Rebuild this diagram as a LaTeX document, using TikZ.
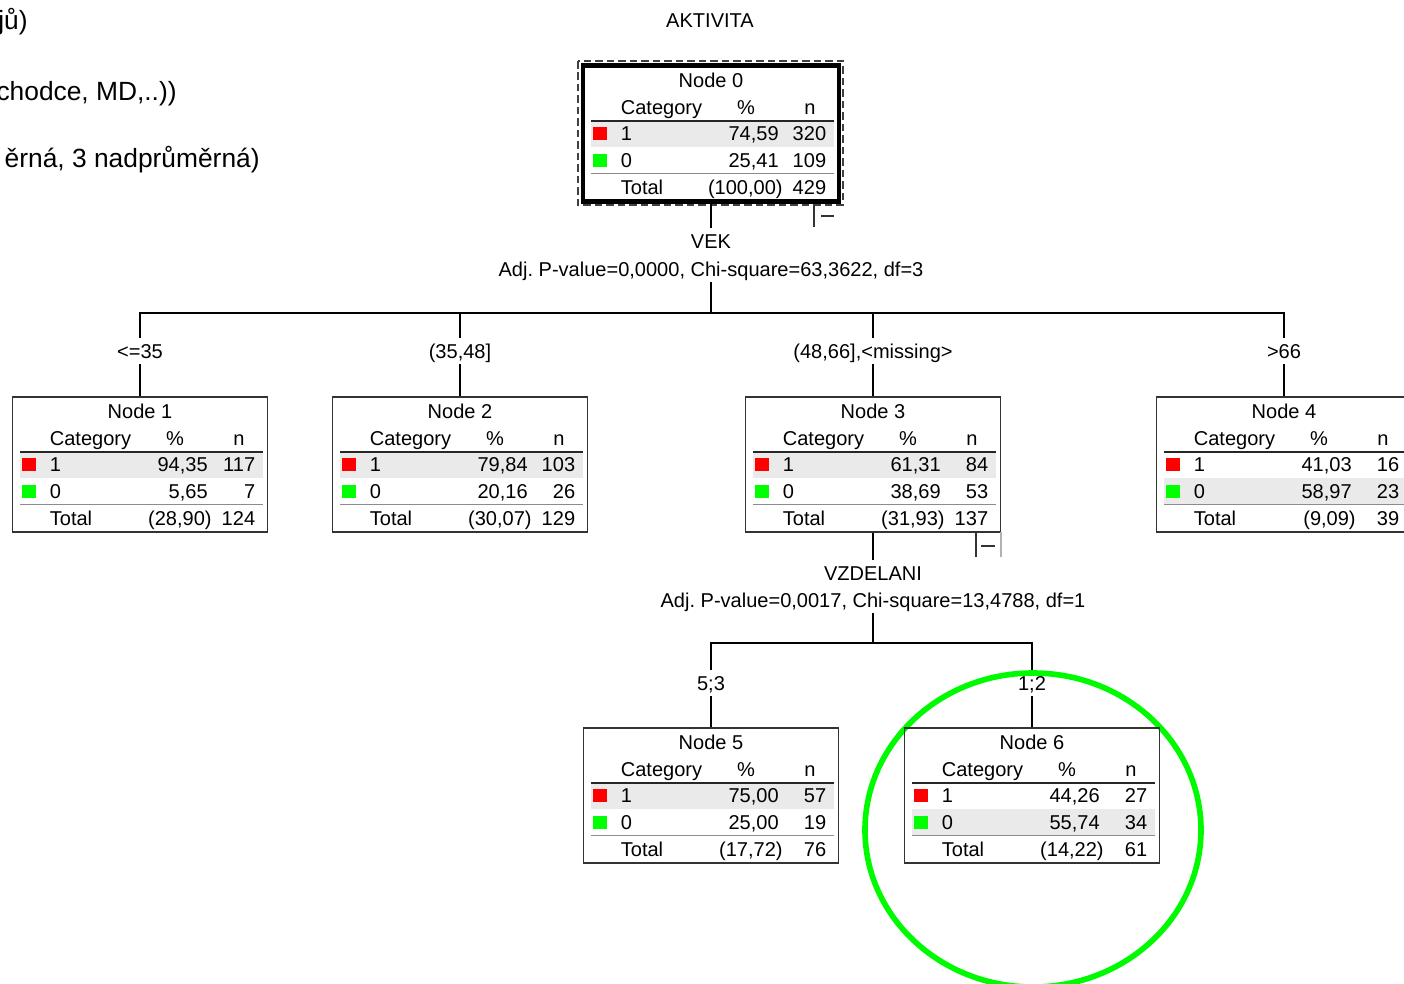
\documentclass[tikz,border=0pt]{standalone}
\usepackage{fontspec}
\setmainfont{Liberation Sans}
\frenchspacing
\definecolor{catred}{RGB}{255,0,0}
\definecolor{catgreen}{RGB}{0,255,0}
\definecolor{rowgray}{RGB}{234,234,234}
\definecolor{ringgreen}{RGB}{0,250,0}
\newcommand{\cellfont}{\fontsize{11.4pt}{13pt}\selectfont}
\newcommand{\sidefont}{\fontsize{15pt}{17pt}\selectfont}
% #1 shaded row, #2 node number, #3 centre x, #4 top y, #5/#6 category 1, #7/#8 category 0, #9 total %
\newcommand{\treebox}[9][1]{%
	\begin{scope}[shift={(#3,#4)}]
		\ifnum#1=1 \fill[rowgray] (-120.5,55) rectangle (122.5,81);
		\else \fill[rowgray] (-120.5,81) rectangle (122.5,107); \fi
		\draw[headline] (-120.5,55)--(122.5,55);
		\draw[totalline] (-120.5,107.5)--(122.5,107.5);
		\fill[catred] (-118.5,61) rectangle (-104.5,74);
		\fill[catgreen] (-118.5,88) rectangle (-104.5,101);
		\node[celltext] (node#2-title) at (0,14) {Node #2};
		\node[celltext,anchor=west] (node#2-cat) at (-90.5,41) {Category};
		\node[celltext] (node#2-pct) at (35,41) {\%};
		\node[celltext] (node#2-n) at (99,41) {n};
		\node[celltext,anchor=west] (node#2-c1) at (-90.5,67) {1};
		\node[celltext,anchor=east] (node#2-p1) at (68,67) {#5};
		\node[celltext,anchor=east] (node#2-n1) at (115.5,67) {#6};
		\node[celltext,anchor=west] (node#2-c0) at (-90.5,94) {0};
		\node[celltext,anchor=east] (node#2-p0) at (68,94) {#7};
		\node[celltext,anchor=east] (node#2-n0) at (115.5,94) {#8};
		\node[celltext,anchor=west] (node#2-tot) at (-90.5,121) {Total};
		\node[celltext,anchor=east] (node#2-ptot) at (72,121) {#9};
		\node[celltext,anchor=east] (node#2-ntot) at (115.5,121) {\the\numexpr#6+#8\relax};
		\node[nodebox] (node#2) at (0,67.5) {};
	\end{scope}}

\begin{document}
\begin{tikzpicture}[x=0.02cm,y=-0.02cm,
	nodebox/.style={draw=black!80,line width=0.6pt,minimum width=5.1cm,minimum height=2.7cm,inner sep=0pt},
	celltext/.style={inner sep=0pt,text height=0.28cm,text depth=0cm,font=\cellfont},
	splitlabel/.style={inner xsep=2pt,inner ysep=0.12cm,text height=0.28cm,text depth=0cm,font=\cellfont},
	sidetext/.style={inner sep=0pt,text height=0.37cm,text depth=0cm,font=\sidefont,anchor=east},
	headline/.style={black!85,line width=0.6pt},
	totalline/.style={black!45,line width=0.6pt},
	treeline/.style={black,line width=0.6pt},
	button/.style={black!80,line width=0.6pt},
	rootframe/.style={black!75,line width=0.6pt,dash pattern=on 0.15cm off 0.08cm},
	ring/.style={ringgreen,line width=3.2pt}]
	\useasboundingbox (0,0) rectangle (1404,984);
	% highlight round node 6
	\draw[ring] (1033,830) ellipse [x radius=168, y radius=157];
	% text cut at the left edge
	\node[sidetext] (side1) at (28,20) {jů)};
	\node[sidetext] (side2) at (177,91) {chodce, MD,..))};
	\node[sidetext] (side3) at (260,158) {ěrná, 3 nadprůměrná)};
	\node[celltext] (target) at (710,20) {AKTIVITA};
	% root
	\treebox{0}{711}{66}{74,59}{320}{25,41}{109}{(100,00)}
	\draw[line width=2.3pt] (node0.north west) rectangle (node0.south east);
	\draw[rootframe] (578,61) rectangle (843,205);
	\draw[button] (814,205)--(814,227);
	\draw[button] (821,216)--(834,216);
	% first split
	\node[splitlabel] (var0) at (711,241) {VEK};
	\node[splitlabel] (stat0) at (711,269) {Adj. P-value=0,0000, Chi-square=63,3622, df=3};
	\coordinate (bar0) at (711,313);
	\node[splitlabel] (s1) at (140,351) {<=35};
	\node[splitlabel] (s2) at (460,351) {(35,48]};
	\node[splitlabel] (s3) at (873,351) {(48,66],<missing>};
	\node[splitlabel] (s4) at (1284,351) {>66};
	\treebox{1}{140}{397}{94,35}{117}{5,65}{7}{(28,90)}
	\treebox{2}{460}{397}{79,84}{103}{20,16}{26}{(30,07)}
	\treebox{3}{873}{397}{61,31}{84}{38,69}{53}{(31,93)}
	\treebox[0]{4}{1284}{397}{41,03}{16}{58,97}{23}{(9,09)}
	\draw[treeline] (node0.south)--(var0.north);
	\draw[treeline] (stat0.south)--(bar0);
	\foreach \i in {1,2,3,4}{
		\draw[treeline] (bar0) -| (s\i.north);
		\draw[treeline] (s\i.south)--(node\i.north);
	}
	% second split
	\draw[button] (976,532)--(976,557);
	\draw[black!30,line width=0.6pt] (1001,532)--(1001,557);
	\draw[button] (981,546)--(995,546);
	\node[splitlabel] (var3) at (873,573) {VZDELANI};
	\node[splitlabel] (stat3) at (873,600) {Adj. P-value=0,0017, Chi-square=13,4788, df=1};
	\coordinate (bar3) at (873,643);
	\node[splitlabel] (s5) at (711,683) {5;3};
	\node[splitlabel] (s6) at (1032,683) {1;2};
	\treebox{5}{711}{728}{75,00}{57}{25,00}{19}{(17,72)}
	\treebox[0]{6}{1032}{728}{44,26}{27}{55,74}{34}{(14,22)}
	\draw[treeline] (node3.south)--(var3.north);
	\draw[treeline] (stat3.south)--(bar3);
	\foreach \i in {5,6}{
		\draw[treeline] (bar3) -| (s\i.north);
		\draw[treeline] (s\i.south)--(node\i.north);
	}
\end{tikzpicture}
\end{document}
